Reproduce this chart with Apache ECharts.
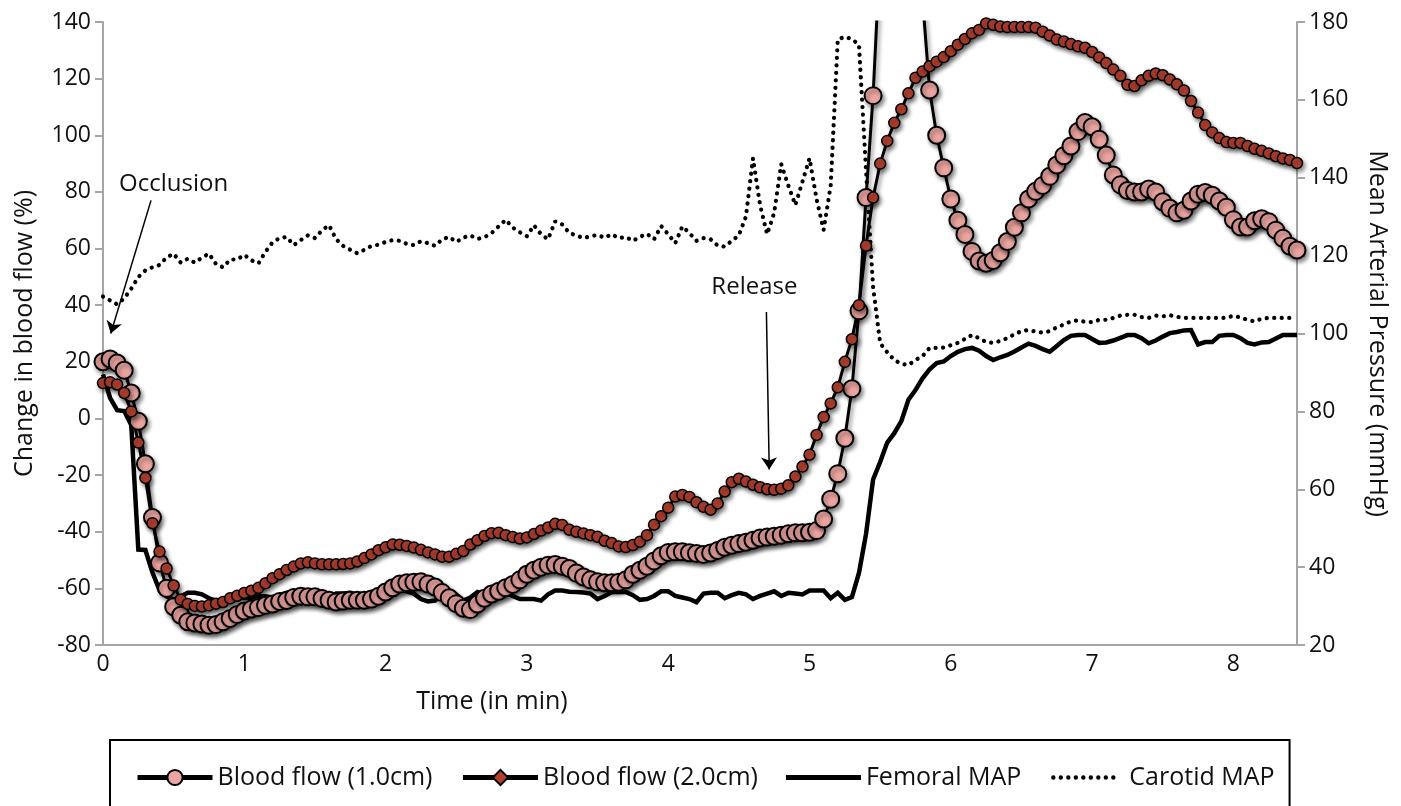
<!DOCTYPE html>
<html>
<head>
<meta charset="utf-8">
<title>Blood flow and MAP during occlusion</title>
<script src="https://cdn.jsdelivr.net/npm/echarts@6/dist/echarts.min.js"></script>
<style>
  html, body { margin: 0; padding: 0; background: #fff; }
  #chart { width: 1401px; height: 806px; }
</style>
</head>
<body>
<div id="chart"></div>
<script>
// sample times in minutes (one row per minute)
const time = [
  0, 0.05, 0.1, 0.15, 0.2, 0.25, 0.3, 0.35, 0.4, 0.45, 0.5, 0.55, 0.6, 0.65, 0.7, 0.75, 0.8, 0.85, 0.9, 0.95,
  1, 1.05, 1.1, 1.15, 1.2, 1.25, 1.3, 1.35, 1.4, 1.45, 1.5, 1.55, 1.6, 1.65, 1.7, 1.75, 1.8, 1.85, 1.9, 1.95,
  2, 2.05, 2.1, 2.15, 2.2, 2.25, 2.3, 2.35, 2.4, 2.45, 2.5, 2.55, 2.6, 2.65, 2.7, 2.75, 2.8, 2.85, 2.9, 2.95,
  3, 3.05, 3.1, 3.15, 3.2, 3.25, 3.3, 3.35, 3.4, 3.45, 3.5, 3.55, 3.6, 3.65, 3.7, 3.75, 3.8, 3.85, 3.9, 3.95,
  4, 4.05, 4.1, 4.15, 4.2, 4.25, 4.3, 4.35, 4.4, 4.45, 4.5, 4.55, 4.6, 4.65, 4.7, 4.75, 4.8, 4.85, 4.9, 4.95,
  5, 5.05, 5.1, 5.15, 5.2, 5.25, 5.3, 5.35, 5.4, 5.45, 5.5, 5.55, 5.6, 5.65, 5.7, 5.75, 5.8, 5.85, 5.9, 5.95,
  6, 6.05, 6.1, 6.15, 6.2, 6.25, 6.3, 6.35, 6.4, 6.45, 6.5, 6.55, 6.6, 6.65, 6.7, 6.75, 6.8, 6.85, 6.9, 6.95,
  7, 7.05, 7.1, 7.15, 7.2, 7.25, 7.3, 7.35, 7.4, 7.45, 7.5, 7.55, 7.6, 7.65, 7.7, 7.75, 7.8, 7.85, 7.9, 7.95,
  8, 8.05, 8.1, 8.15, 8.2, 8.25, 8.3, 8.35, 8.4, 8.45
]

// change in blood flow (%), left axis
const flow1cm = [
  20, 21, 19.6, 17, 9, -1, -16, -35, -51, -60, -66.5, -69.5, -71.8, -72.2, -72.6, -73, -72.8, -71.8, -70.6, -69.2,
  -68, -67.3, -66.8, -66, -65.5, -64.6, -64.3, -63.2, -62.8, -63, -63, -63.6, -64.2, -64.8, -64.5, -64.2, -64.2, -64.2, -63.8, -62.8,
  -61.3, -59.8, -58.5, -58, -57.8, -57.7, -58.5, -59.5, -61.5, -63.3, -65.4, -67, -67.5, -65.5, -63.5, -62, -61, -59.8, -58.6, -57,
  -55, -53.6, -52.5, -51.8, -51.6, -52.2, -53, -54.6, -56, -57, -57.7, -58, -58, -57.8, -57, -55, -53.6, -52.2, -50.3, -48.5,
  -47.3, -47.1, -47.1, -47.4, -47.7, -48, -47.5, -46.6, -45.5, -44.8, -44.2, -43.7, -43, -42.2, -41.9, -41.6, -41.2, -40.7, -40.4, -40.4,
  -40.2, -39.6, -35.5, -28.5, -19.5, -7, 10.5, 38, 78, 114, 165, 230, 290, 320, 300, 240, 148, 116, 100, 88.5,
  77.5, 70, 65, 59, 55.6, 54.8, 55.8, 58.5, 62.5, 67.5, 72.6, 77.5, 80.2, 82.3, 85.5, 89.5, 92.8, 96.2, 101.3, 104.5,
  103, 98.6, 93, 86, 82.5, 80.5, 80, 80, 81, 80, 76.5, 74.2, 72.6, 73.5, 76.8, 79.2, 79.8, 78.8, 76.8, 74.6,
  70.2, 67.6, 67.6, 69.8, 70.5, 69.5, 66.5, 63.6, 60.8, 59.5
]
const flow2cm = [
  12.5, 12.8, 12, 9, 2.5, -8.5, -21, -37, -47, -53, -59, -64, -65.5, -66.2, -66.4, -66, -65.4, -64.8, -63.5, -62.6,
  -61.6, -60.8, -59.8, -58.2, -56.4, -55, -53.5, -52.3, -51.2, -50.8, -51.2, -51.5, -51.5, -51.5, -51.4, -51.2, -50.5, -49.3, -48, -46.5,
  -45.5, -44.5, -44.6, -45, -45.6, -46.4, -47.3, -48, -48.8, -48.8, -47.8, -46.8, -44.5, -43, -41.5, -40.5, -40.4, -41.2, -41.9, -42.4,
  -42, -40.8, -39.6, -38.5, -37.2, -37.6, -39.3, -40, -40.6, -41.2, -41.8, -43.2, -44, -45.2, -45.4, -44.7, -43.5, -41.2, -37.5, -34.5,
  -31.5, -27.6, -27, -27.7, -29.6, -31.2, -32.2, -30, -25.8, -22.5, -21.3, -22.3, -23.4, -24.3, -25, -25.2, -24.8, -23.6, -20.5, -17,
  -12.8, -5.8, 0.5, 5.3, 11, 20, 28, 40, 61, 78, 90, 98, 104.4, 109.2, 114.8, 120.3, 122.5, 124.4, 126, 127.6,
  129.7, 132, 134, 136, 137.2, 139.5, 139, 138.4, 138.2, 138.2, 138.2, 138.2, 138, 136.6, 135.2, 133.8, 133.1, 132.2, 131.4, 130.9,
  129.4, 127.5, 125.5, 123.2, 121, 117.8, 117.4, 119.4, 121, 121.8, 121.2, 119.7, 118, 115.8, 112.1, 108, 103.6, 101, 99, 97.6,
  97.3, 97.3, 96.2, 95.2, 94.5, 93.6, 92.6, 91.8, 91.3, 90.2
]

// mean arterial pressure (mmHg), right axis
const femoralMap = [
  89.5, 83.5, 80.3, 80.1, 76.5, 44.5, 44.4, 38.6, 34.1, 32.5, 31.6, 32.5, 33.4, 33.4, 33, 32, 31.4, 30.8, 31.5, 32.3,
  32.1, 32.1, 32.6, 32.5, 32.2, 32.8, 33.4, 33.6, 33.8, 33.2, 32.5, 31.8, 32.2, 33.2, 33.2, 33.4, 32.8, 32.8, 33.4, 33.8,
  33.8, 33.6, 34, 33.8, 33.2, 31.8, 31.2, 31.4, 33.2, 33.6, 33, 31.4, 32.2, 33.6, 33, 32.3, 33.6, 33.6, 32.6, 31.8,
  31.8, 31.8, 31.4, 33, 34, 34, 33.7, 33.6, 33.5, 33.2, 31.8, 32.6, 33.6, 33.6, 33.6, 32.8, 31.6, 31.8, 32.6, 33.8,
  33.8, 32.6, 32.2, 31.8, 31, 33.2, 33.4, 33.4, 32, 32.8, 33.4, 33, 31.8, 32.6, 33.2, 33.8, 32.6, 33.4, 33.2, 33,
  34, 34, 34, 32, 33.4, 31.6, 32.3, 38.5, 48.5, 62.5, 67, 72, 74.4, 77.5, 83, 85.5, 88.5, 90.8, 92.4, 92.8,
  94.2, 95.3, 96, 96.3, 95.6, 94.2, 93.2, 93.9, 94.5, 95.4, 96.4, 97.4, 96.8, 96, 95.3, 96.8, 98.3, 99.4, 99.6, 99.6,
  98.6, 97.6, 97.7, 98.2, 98.9, 99.6, 99.6, 98.8, 97.5, 98.2, 99.2, 100.1, 100.4, 100.8, 100.9, 97.2, 97.8, 97.8, 99.4, 99.6,
  99.6, 98.8, 97.6, 97.2, 97.7, 97.8, 98.7, 99.6, 99.6, 99.6
]
const carotidMap = [
  109.5, 108.5, 107.5, 109, 111.5, 114.5, 116.2, 117, 117.6, 119.5, 120.5, 118.2, 119.2, 118.2, 119.5, 120.5, 117.8, 117, 119, 119,
  120.2, 118.8, 118, 121, 123.4, 124.5, 124.8, 122.7, 124, 125.2, 124.5, 126.5, 127.8, 124.2, 122.5, 121.5, 120.6, 121.5, 122.5, 122.8,
  123.5, 124, 123.8, 123, 122.7, 123.7, 123.2, 122.5, 124.2, 124.8, 123.5, 124.6, 125.2, 124.3, 124.7, 125.8, 127.5, 129.2, 127.2, 126,
  125, 127.8, 125.5, 124.2, 128.8, 128, 125.8, 125.2, 124.5, 125, 125.3, 124.6, 125.5, 124.5, 124.8, 123.8, 124.8, 125.6, 124.2, 127.6,
  125.5, 123.2, 127.5, 125.8, 123.8, 124.5, 124.2, 122.6, 122.3, 123.8, 125.2, 130, 145, 133, 125.5, 131, 143.5, 138, 133, 139,
  145, 134.5, 126.6, 138, 175.5, 176.2, 175.6, 174.2, 142, 112, 97.5, 95.2, 93.2, 92.2, 91.9, 93.2, 94.2, 96.3, 96.3, 96.4,
  97, 97.6, 98.6, 99.6, 98.8, 97.8, 97.6, 98.1, 98.8, 99.8, 100.6, 100.9, 100.5, 100.2, 100.6, 101.6, 102.3, 103.1, 103.4, 103,
  102.9, 103.5, 103.5, 104, 104.6, 104.8, 104.8, 104.2, 104, 104.6, 104.4, 104.7, 104.3, 104, 104, 104, 104, 104, 104, 104,
  104.6, 104.1, 103.5, 103.1, 103.8, 104, 104, 104, 104, null
]

// axis ranges [min, max, step]
const timeRange = [0, 8.45, 1]
const flowRange = [-80, 140, 20]
const mapRange = [20, 180, 20]

// annotation positions in data units (time, % flow)
const occlusionLabel = [0.5, 82.8]
const occlusionArrow = [[0.34, 77], [0.055, 30]]
const releaseLabel = [4.61, 46.4]
const releaseArrow = [[4.695, 37.6], [4.715, -18]]

const font = 'Open Sans'
const ink = '#111'
const axisGray = '#a6a6a6'
const shadow = { shadowColor: 'rgba(0,0,0,0.45)', shadowBlur: 4, shadowOffsetX: 2, shadowOffsetY: 3 }

const pairs = (ys) => time.map((t, i) => [t, ys[i]])

// legend icons for the two plain MAP lines (75 x 19 box, tiny corner specks fix the bounds)
const corners = 'M0,0h0.05v0.05h-0.05zM74.95,18.95h0.05v0.05h-0.05z'
const solidIcon = 'path://' + corners + 'M0,7h75v5h-75z'
let dots = ''
for (let x = 4; x <= 64; x += 7.5) {
  dots += 'M' + (x - 2.2) + ',9.5a2.2,2.2 0 1,0 4.4,0a2.2,2.2 0 1,0 -4.4,0z'
}
const dottedIcon = 'path://' + corners + dots

const chart = echarts.init(document.getElementById('chart'))

const yAxisBase = {
  type: 'value',
  nameLocation: 'middle',
  nameMoveOverlap: false,
  nameTextStyle: { fontSize: 25, color: ink, fontFamily: font },
  axisLine: { show: true, onZero: false, lineStyle: { color: axisGray, width: 2 } },
  axisTick: { show: true, length: 8, lineStyle: { color: axisGray, width: 2 } },
  axisLabel: { fontSize: 23, color: ink, fontFamily: font, margin: 12 },
  splitLine: { show: false }
}

const option = {
  animation: false,
  backgroundColor: '#fff',
  grid: { left: 103, right: 104, top: 22, bottom: 161, containLabel: false, outerBoundsMode: 'none' },
  legend: {
    left: 110,
    top: 740,
    padding: [25, 15, 40, 25],
    borderColor: '#000',
    borderWidth: 2,
    itemWidth: 75,
    itemHeight: 19,
    itemGap: 28,
    lineStyle: { width: 5 },
    textStyle: { fontSize: 25, color: ink, fontFamily: font },
    data: [
      { name: 'Blood flow (1.0cm)' },
      { name: 'Blood flow (2.0cm)' },
      { name: 'Femoral MAP', icon: solidIcon },
      { name: 'Carotid MAP', icon: dottedIcon }
    ]
  },
  xAxis: {
    type: 'value',
    min: timeRange[0],
    max: timeRange[1],
    interval: timeRange[2],
    name: 'Time (in min)',
    nameLocation: 'middle',
    nameGap: 44,
    nameMoveOverlap: false,
    nameTextStyle: { fontSize: 25, color: ink, fontFamily: font, padding: [0, 416, 0, 0] },
    axisLine: { onZero: false, lineStyle: { color: axisGray, width: 2 } },
    axisTick: { show: false },
    axisLabel: { fontSize: 23, color: ink, fontFamily: font, margin: 8, showMaxLabel: false },
    splitLine: { show: false }
  },
  yAxis: [
    Object.assign({}, yAxisBase, {
      position: 'left',
      min: flowRange[0],
      max: flowRange[1],
      interval: flowRange[2],
      name: 'Change in blood flow (%)',
      nameRotate: 90,
      nameGap: 66
    }),
    Object.assign({}, yAxisBase, {
      position: 'right',
      min: mapRange[0],
      max: mapRange[1],
      interval: mapRange[2],
      name: 'Mean Arterial Pressure (mmHg)',
      nameRotate: -90,
      nameGap: 68
    })
  ],
  series: [
    {
      name: 'Blood flow (1.0cm)',
      type: 'line',
      yAxisIndex: 0,
      data: pairs(flow1cm),
      symbol: 'circle',
      symbolSize: 17,
      showAllSymbol: true,
      lineStyle: Object.assign({ color: '#000', width: 3 }, shadow),
      itemStyle: Object.assign({ color: '#eba49f', borderColor: '#000', borderWidth: 2 }, shadow),
      emphasis: { disabled: true },
      markLine: {
        silent: true,
        animation: false,
        symbol: ['none', 'arrow'],
        symbolSize: 12,
        lineStyle: { color: '#000', width: 1.5, type: 'solid' },
        label: { show: false },
        emphasis: { disabled: true },
        data: [
          [{ coord: occlusionArrow[0] }, { coord: occlusionArrow[1] }],
          [{ coord: releaseArrow[0] }, { coord: releaseArrow[1] }]
        ]
      },
      markPoint: {
        silent: true,
        animation: false,
        symbol: 'circle',
        symbolSize: 0,
        itemStyle: { color: 'rgba(0,0,0,0)' },
        label: { show: true, position: 'inside', color: ink, fontSize: 24, fontFamily: font },
        data: [
          { coord: occlusionLabel, label: { formatter: 'Occlusion' } },
          { coord: releaseLabel, label: { formatter: 'Release' } }
        ]
      }
    },
    {
      name: 'Blood flow (2.0cm)',
      type: 'line',
      yAxisIndex: 0,
      // diamond shows in the legend, the plotted points are round
      data: pairs(flow2cm).map((p) => ({ value: p, symbol: 'circle' })),
      symbol: 'diamond',
      symbolSize: 11,
      showAllSymbol: true,
      lineStyle: Object.assign({ color: '#000', width: 3 }, shadow),
      itemStyle: Object.assign({ color: '#b3402f', borderColor: '#000', borderWidth: 1.5 }, shadow),
      emphasis: { disabled: true }
    },
    {
      name: 'Femoral MAP',
      type: 'line',
      yAxisIndex: 1,
      data: pairs(femoralMap),
      symbol: 'none',
      lineStyle: { color: '#000', width: 4.5, join: 'miter' },
      itemStyle: { color: '#000' },
      emphasis: { disabled: true }
    },
    {
      name: 'Carotid MAP',
      type: 'line',
      yAxisIndex: 1,
      data: pairs(carotidMap),
      symbol: 'none',
      lineStyle: { color: '#000', width: 4.2, type: [0.1, 7.4], cap: 'round' },
      itemStyle: { color: '#000' },
      emphasis: { disabled: true }
    }
  ]
}

chart.setOption(option)
</script>
</body>
</html>
